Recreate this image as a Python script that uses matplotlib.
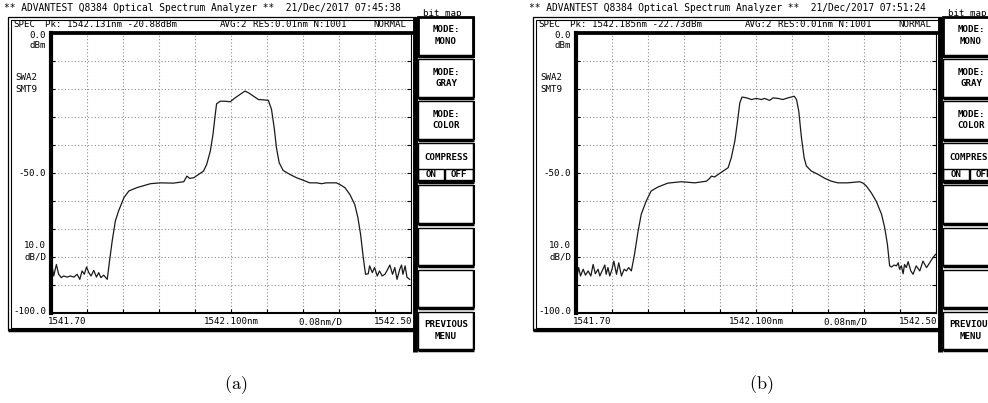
import numpy as np
import matplotlib.pyplot as plt
from matplotlib.patches import Rectangle

plt.rcParams['mathtext.fontset'] = 'cm'

W, H = 988, 403
OFF_B = 525          # horizontal shift of the second screen (pixels)
MONO = 'DejaVu Sans Mono'

# ---- traces (wavelength nm, power dBm) ----
wl_a = [1541.703, 1541.706, 1541.712, 1541.717, 1541.723, 1541.728, 1541.736, 1541.743, 1541.751, 1541.758,
        1541.764, 1541.769, 1541.774, 1541.779, 1541.784, 1541.789, 1541.795, 1541.801, 1541.806, 1541.811,
        1541.817, 1541.825, 1541.830, 1541.836, 1541.843, 1541.850, 1541.862, 1541.873, 1541.891, 1541.921,
        1541.943, 1541.972, 1541.995, 1542.002, 1542.008, 1542.017, 1542.028, 1542.039, 1542.046, 1542.054,
        1542.060, 1542.065, 1542.068, 1542.076, 1542.087, 1542.098, 1542.109, 1542.120, 1542.131, 1542.139,
        1542.150, 1542.161, 1542.172, 1542.183, 1542.190, 1542.196, 1542.201, 1542.207, 1542.216, 1542.231,
        1542.246, 1542.261, 1542.275, 1542.290, 1542.301, 1542.312, 1542.334, 1542.342, 1542.353, 1542.364,
        1542.375, 1542.382, 1542.388, 1542.394, 1542.399, 1542.405, 1542.408, 1542.414, 1542.419, 1542.425,
        1542.430, 1542.436, 1542.442, 1542.447, 1542.453, 1542.459, 1542.464, 1542.469, 1542.475, 1542.479,
        1542.482, 1542.487, 1542.491, 1542.497]
dbm_a = [-83.8, -86.8, -82.7, -86.2, -87.4, -86.8, -87.2, -86.8, -87.2, -86.2,
         -88.0, -85.0, -86.2, -83.6, -85.6, -86.8, -84.8, -87.2, -85.6, -87.4,
         -86.5, -88.0, -81.5, -74.3, -67.2, -63.7, -58.9, -56.5, -55.3, -53.9,
         -53.6, -53.7, -53.2, -51.2, -52.0, -51.8, -50.6, -49.4, -47.0, -42.3,
         -36.3, -29.2, -25.4, -24.5, -24.5, -24.7, -23.3, -22.1, -20.88, -21.5,
         -22.7, -23.9, -24.0, -24.2, -27.4, -34.0, -41.1, -46.4, -49.2, -50.6,
         -51.8, -52.7, -53.6, -53.6, -53.9, -53.6, -53.6, -54.2, -55.3, -57.7,
         -61.3, -66.0, -72.0, -80.3, -86.2, -86.0, -83.2, -85.6, -83.8, -86.8,
         -85.0, -86.8, -86.2, -84.8, -82.9, -86.2, -83.8, -88.0, -84.4, -82.9,
         -86.2, -83.2, -87.2, -88.0]

wl_b = [1541.703, 1541.706, 1541.710, 1541.716, 1541.721, 1541.727, 1541.733, 1541.738, 1541.743, 1541.749,
        1541.753, 1541.758, 1541.764, 1541.767, 1541.771, 1541.775, 1541.780, 1541.784, 1541.790, 1541.795,
        1541.801, 1541.807, 1541.812, 1541.817, 1541.823, 1541.830, 1541.838, 1541.845, 1541.856, 1541.867,
        1541.882, 1541.904, 1541.934, 1541.964, 1541.990, 1541.997, 1542.001, 1542.008, 1542.016, 1542.027,
        1542.038, 1542.045, 1542.053, 1542.059, 1542.064, 1542.069, 1542.079, 1542.090, 1542.101, 1542.112,
        1542.119, 1542.130, 1542.138, 1542.149, 1542.160, 1542.171, 1542.185, 1542.190, 1542.195, 1542.201,
        1542.207, 1542.212, 1542.223, 1542.238, 1542.253, 1542.267, 1542.282, 1542.304, 1542.330, 1542.338,
        1542.345, 1542.356, 1542.367, 1542.379, 1542.386, 1542.392, 1542.397, 1542.401, 1542.407, 1542.412,
        1542.416, 1542.419, 1542.423, 1542.427, 1542.430, 1542.434, 1542.438, 1542.444, 1542.449, 1542.456,
        1542.464, 1542.471, 1542.479, 1542.486, 1542.493, 1542.499]
dbm_b = [-86.2, -83.8, -86.8, -84.4, -86.5, -85.0, -86.8, -82.7, -86.0, -84.4,
         -86.8, -85.0, -82.9, -86.2, -83.8, -86.8, -84.4, -81.5, -86.2, -82.1,
         -86.8, -84.4, -85.0, -83.8, -85.0, -79.1, -70.8, -64.8, -60.1, -56.5,
         -55.1, -53.7, -53.2, -53.6, -53.0, -52.0, -51.2, -51.5, -50.6, -49.4,
         -48.2, -44.7, -38.7, -31.6, -25.1, -23.0, -23.3, -23.9, -23.5, -23.9,
         -23.5, -24.2, -23.3, -23.5, -23.9, -23.3, -22.73, -23.9, -28.0, -37.5,
         -44.7, -47.6, -49.4, -50.6, -52.0, -53.0, -53.6, -53.6, -53.2, -53.7,
         -54.7, -57.1, -60.1, -64.8, -69.6, -75.5, -83.2, -83.6, -82.9, -83.2,
         -82.1, -84.4, -83.2, -86.0, -82.7, -83.8, -81.7, -85.0, -86.2, -83.2,
         -85.0, -81.5, -83.8, -82.1, -80.3, -79.1]

# ---- screen texts ----
titles = ['** ADVANTEST Q8384 Optical Spectrum Analyzer **  21/Dec/2017 07:45:38',
          '** ADVANTEST Q8384 Optical Spectrum Analyzer **  21/Dec/2017 07:51:24']
peaks = ['Pk: 1542.131nm -20.88dBm', 'Pk: 1542.185nm -22.73dBm']
captions = [r'$\mathrm{(a)}$', r'$\mathrm{(b)}$']
buttons = [('MODE:', 'MONO'), ('MODE:', 'GRAY'), ('MODE:', 'COLOR'), ('COMPRESS', ''),
           ('', ''), ('', ''), ('', ''), ('PREVIOUS', 'MENU')]
x_start, x_stop = 1541.70, 1542.50
y_top, y_bottom = 0.0, -100.0

fig = plt.figure(figsize=(W / 100, H / 100), dpi=100)
over = fig.add_axes([0, 0, 1, 1])
over.set_xlim(0, W)
over.set_ylim(H, 0)
over.axis('off')


def txt(x, y, s, size=6.6, ha='left', weight='normal'):
    over.text(x, y, s, fontsize=size, family=MONO, ha=ha, va='center', fontweight=weight)


def line(xs, ys, lw=1.0, color='k'):
    over.plot(xs, ys, color=color, lw=lw, solid_capstyle='butt')


def screen(ox, title, peak, wl, dbm, caption):
    txt(ox + 4, 8, title, size=6.9)
    txt(ox + 423, 13, 'bit map', size=6.6)

    # outer double frame
    over.add_patch(Rectangle((ox + 8, 17), 408, 313, fill=False, lw=0.9, ec='k'))
    over.add_patch(Rectangle((ox + 10.5, 19.5), 404, 308, fill=False, lw=0.8, ec='k'))
    line([ox + 50, ox + 416], [32, 32], lw=2)
    line([ox + 8, ox + 417], [329.5, 329.5], lw=2.5)
    line([ox + 415, ox + 415], [17, 352], lw=3.5)

    # header row
    txt(ox + 13, 24.5, 'SPEC')
    txt(ox + 45, 24.5, peak)
    txt(ox + 220, 24.5, 'AVG:2')
    txt(ox + 253, 24.5, 'RES:0.01nm N:1001')
    txt(ox + 373, 24.5, 'NORMAL')

    # left annotations
    txt(ox + 46, 35, '0.0', ha='right')
    txt(ox + 46, 46, 'dBm', ha='right')
    txt(ox + 15, 78, 'SWA2')
    txt(ox + 15, 90, 'SMT9')
    txt(ox + 46, 173, '-50.0', ha='right')
    txt(ox + 46, 246, '10.0', ha='right')
    txt(ox + 46, 257, 'dB/D', ha='right')
    txt(ox + 46, 311, '-100.0', ha='right')

    # bottom annotations
    txt(ox + 48, 322, '1541.70')
    txt(ox + 231, 322, '1542.100nm', ha='center')
    txt(ox + 320, 322, '0.08nm/D', ha='center')
    txt(ox + 412, 322, '1542.50', ha='right')

    # soft keys
    for i, (l1, l2) in enumerate(buttons):
        top = 17 + i * 42.1
        h = 38.5
        over.add_patch(Rectangle((ox + 418, top), 55, h, facecolor='white',
                                 ec='k', lw=2.0 if i == 0 else 1.0))
        line([ox + 418, ox + 474], [top + h, top + h], lw=2.5)
        line([ox + 473.5, ox + 473.5], [top, top + h], lw=1.5)
        cx = ox + 446
        if i == 3:
            txt(cx, top + 14, l1, weight='bold', ha='center')
            over.add_patch(Rectangle((ox + 418, top + 26), 26, 11, fill=False, ec='k', lw=1.0))
            over.add_patch(Rectangle((ox + 445, top + 26), 28, 11, fill=False, ec='k', lw=1.0))
            txt(ox + 431, top + 31.5, 'ON', weight='bold', ha='center')
            txt(ox + 459, top + 31.5, 'OFF', weight='bold', ha='center')
        elif l1:
            txt(cx, top + 13, l1, weight='bold', ha='center')
            txt(cx, top + 24.5, l2, weight='bold', ha='center')

    over.text(ox + 236, 385, caption, fontsize=13, ha='center', va='center')

    # the trace window
    x0, x1, y0, y1 = ox + 51, ox + 411, 32.5, 313
    ax = fig.add_axes([x0 / W, 1 - y1 / H, (x1 - x0) / W, (y1 - y0) / H])
    ax.plot(wl, dbm, color='#1a1a1a', lw=0.9)
    ax.set_xlim(x_start, x_stop)
    ax.set_ylim(y_bottom, y_top)
    ax.set_xticks(np.linspace(x_start, x_stop, 11))
    ax.set_yticks(np.linspace(y_bottom, y_top, 11))
    ax.grid(True, color='#8c8c8c', lw=0.8, ls=(0, (1, 2)))
    ax.tick_params(direction='in', length=3, width=0.8, labelleft=False, labelbottom=False,
                   left=True, right=True, bottom=True, top=False)
    ax.spines['left'].set_linewidth(3)
    ax.spines['bottom'].set_linewidth(1.5)
    ax.spines['right'].set_linewidth(0.8)
    ax.spines['top'].set_linewidth(2)


screen(0, titles[0], peaks[0], wl_a, dbm_a, captions[0])
screen(OFF_B, titles[1], peaks[1], wl_b, dbm_b, captions[1])

fig.savefig('out.png', dpi=100)
